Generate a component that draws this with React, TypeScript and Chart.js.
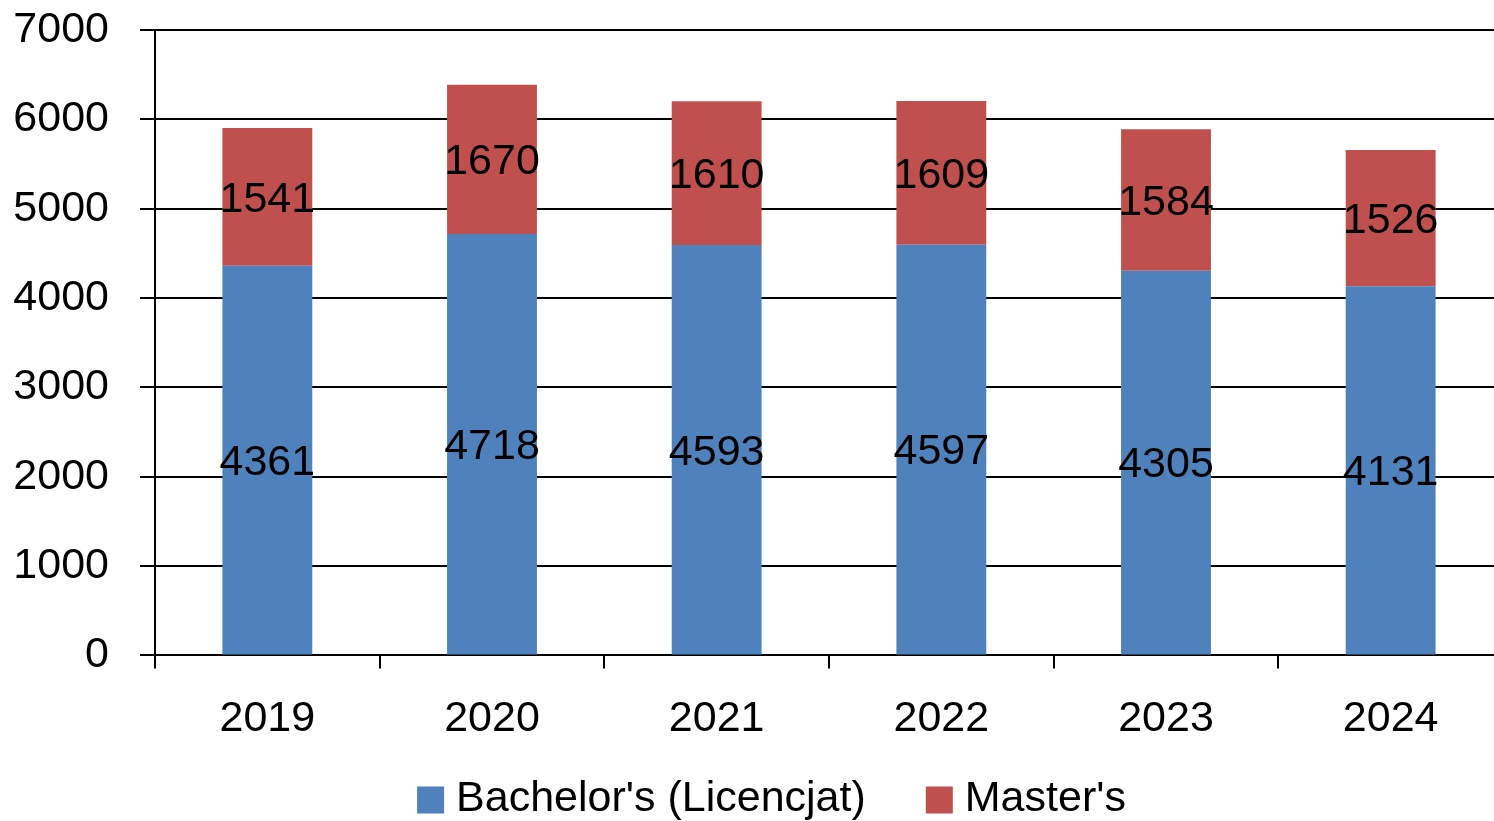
import React, { useEffect, useRef } from "react";
import { Chart, registerables } from "chart.js";

Chart.register(...registerables);

const years = ["2019", "2020", "2021", "2022", "2023", "2024"];
const bachelors = [4361, 4718, 4593, 4597, 4305, 4131];
const masters = [1541, 1670, 1610, 1609, 1584, 1526];
const seriesNames = ["Bachelor's (Licencjat)", "Master's"];
const seriesColors = ["#4F81BD", "#C0504D"];
const yTicks = [0, 1000, 2000, 3000, 4000, 5000, 6000, 7000];

const FONT = "'Liberation Sans', Arial, sans-serif";
const FS = 43;

const valueLabels = {
  id: "valueLabels",
  afterDatasetsDraw(chart: any) {
    const ctx = chart.ctx;
    ctx.save();
    ctx.font = `${FS}px ${FONT}`;
    ctx.fillStyle = "#000";
    ctx.textAlign = "center";
    ctx.textBaseline = "middle";
    chart.data.datasets.forEach((ds: any, di: number) => {
      const meta = chart.getDatasetMeta(di);
      meta.data.forEach((el: any, i: number) => {
        const y = (el.y + el.base) / 2 + 3;
        ctx.fillText(String(ds.data[i]), el.x, y);
      });
    });
    ctx.restore();
  },
};

const customLegend = {
  id: "customLegend",
  afterDraw(chart: any) {
    const ctx = chart.ctx;
    ctx.save();
    ctx.font = `${FS}px ${FONT}`;
    ctx.textBaseline = "middle";
    ctx.textAlign = "left";
    const box = 27, gap = 12, itemGap = 60;
    const widths = seriesNames.map((n) => ctx.measureText(n).width);
    const total = widths.reduce((a, w) => a + box + gap + w, 0) + itemGap * (seriesNames.length - 1);
    let x = chart.width / 2 - total / 2;
    const cy = chart.height - 22;
    seriesNames.forEach((n, i) => {
      ctx.fillStyle = seriesColors[i];
      ctx.fillRect(x, cy - box / 2 + 1, box, box);
      x += box + gap;
      ctx.fillStyle = "#000";
      ctx.fillText(n, x, cy);
      x += widths[i] + itemGap;
    });
    ctx.restore();
  },
};

export default function App() {
  const ref = useRef<HTMLCanvasElement>(null);
  useEffect(() => {
    document.body.style.overflow = "hidden";
    const chart = new Chart(ref.current!, {
      type: "bar",
      data: {
        labels: years,
        datasets: seriesNames.map((name, i) => ({
          label: name,
          data: i === 0 ? bachelors : masters,
          backgroundColor: seriesColors[i],
          barPercentage: 1,
          categoryPercentage: 0.4,
        })),
      },
      options: {
        responsive: false,
        animation: false,
        devicePixelRatio: 1,
        layout: { padding: { left: 0, top: 30, right: 40, bottom: 51 } },
        plugins: {
          legend: { display: false },
          tooltip: { enabled: false },
        },
        scales: {
          x: {
            stacked: true,
            afterFit: (scale: any) => { scale.paddingLeft = 0; scale.paddingRight = 0; },
            grid: { drawOnChartArea: false, drawTicks: true, tickLength: 13, color: "#000", lineWidth: 2 },
            border: { color: "#000", width: 2 },
            ticks: { color: "#000", font: { family: FONT, size: FS }, padding: 25 },
          },
          y: {
            stacked: true,
            min: 0,
            max: 7000,
            afterFit: (scale: any) => { scale.width = 155; scale.paddingTop = 0; scale.paddingBottom = 0; },
            afterBuildTicks: (scale: any) => { scale.ticks = yTicks.map((v) => ({ value: v })); },
            grid: { color: "#000", lineWidth: 2, tickLength: 15 },
            border: { color: "#000", width: 2 },
            ticks: {
              color: "#000",
              font: { family: FONT, size: FS },
              padding: 31,
              callback: (v: any) => String(v),
            },
          },
        },
      },
      plugins: [valueLabels, customLegend],
    });
    return () => chart.destroy();
  }, []);
  return (
    <div style={{ position: "fixed", left: 0, top: 0, width: 1543, height: 821 }}>
      <canvas ref={ref} width={1543} height={821} style={{ display: "block" }} />
    </div>
  );
}
